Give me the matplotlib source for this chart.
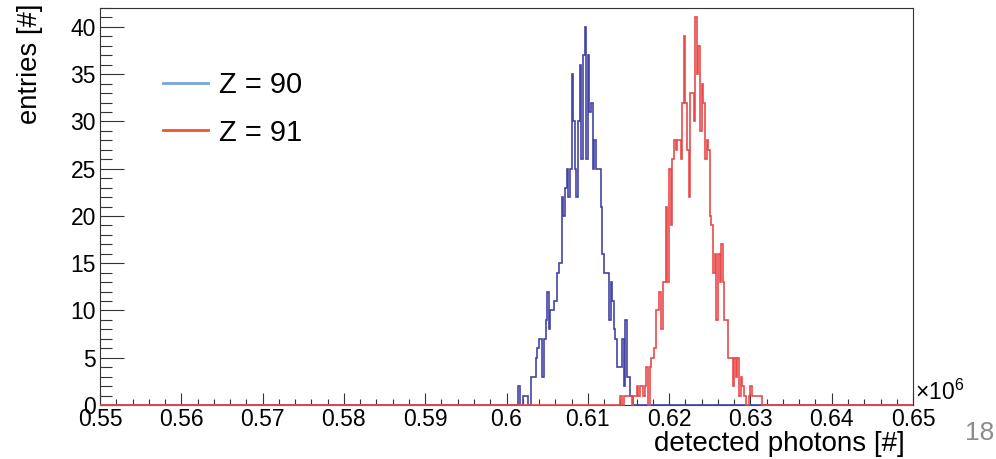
import numpy as np
import matplotlib
matplotlib.use("Agg")
import matplotlib.pyplot as plt
from matplotlib.lines import Line2D
from matplotlib.ticker import MultipleLocator

# histogram binning (x in units of 1e6 photons)
x_min = 0.55
x_max = 0.65
n_bins = 500

# Z = 90: counts starting at bin index blue_first_bin
blue_first_bin = 257
blue_counts = [
    2, 0, 0, 1, 1, 1, 0, 0, 3, 3,
    3, 5, 6, 7, 7, 3, 7, 9, 12, 8,
    10, 10, 11, 11, 14, 15, 15, 22, 20, 23,
    25, 22, 25, 35, 30, 25, 22, 30, 36, 26,
    37, 40, 26, 37, 31, 32, 25, 28, 25, 25,
    25, 21, 16, 14, 14, 14, 9, 13, 11, 8,
    7, 4, 4, 4, 7, 2, 9, 3, 3, 1,
    1,
]

# Z = 91: counts starting at bin index red_first_bin
red_first_bin = 320
red_counts = [
    1, 0, 1, 1, 1, 1, 1, 0, 1, 1,
    2, 1, 2, 2, 1, 2, 4, 0, 4, 5,
    5, 6, 10, 10, 12, 8, 13, 13, 21, 13,
    25, 19, 26, 28, 27, 28, 28, 26, 32, 39,
    32, 27, 22, 33, 33, 30, 41, 35, 38, 29,
    34, 32, 26, 28, 27, 20, 19, 14, 16, 9,
    16, 13, 17, 13, 9, 9, 5, 5, 5, 2,
    5, 3, 5, 1, 3, 2, 1, 0, 0, 1,
    2, 1, 1, 1, 1, 1, 1, 0,
]

x_ticks = [0.55, 0.56, 0.57, 0.58, 0.59, 0.60, 0.61, 0.62, 0.63, 0.64, 0.65]
x_tick_labels = ["0.55", "0.56", "0.57", "0.58", "0.59", "0.6",
                 "0.61", "0.62", "0.63", "0.64", "0.65"]
y_ticks = [0, 5, 10, 15, 20, 25, 30, 35, 40]
legend_labels = ["Z = 90", "Z = 91"]

plt.rcParams["font.family"] = ["Liberation Sans", "DejaVu Sans"]
plt.rcParams["mathtext.fontset"] = "custom"
plt.rcParams["mathtext.rm"] = "Liberation Sans"


def full_hist(first_bin, counts):
    h = np.zeros(n_bins)
    h[first_bin:first_bin + len(counts)] = counts
    return h


edges = np.linspace(x_min, x_max, n_bins + 1)
blue_hist = full_hist(blue_first_bin, blue_counts)
red_hist = full_hist(red_first_bin, red_counts)

fig = plt.figure(figsize=(9.96, 4.59), dpi=100)
ax = fig.add_axes([0.1004, 0.1176, 0.8163, 0.8650])

ax.stairs(blue_hist, edges, color="#4444a8", linewidth=1.2, zorder=3, clip_on=False)
ax.stairs(red_hist, edges, color="#ea4a4a", linewidth=1.2, zorder=3, clip_on=False)

ax.set_xlim(x_min, x_max)
ax.set_ylim(0, 42)

ax.set_xticks(x_ticks)
ax.set_xticklabels(x_tick_labels)
ax.xaxis.set_minor_locator(MultipleLocator(0.002))
ax.set_yticks(y_ticks)
ax.yaxis.set_minor_locator(MultipleLocator(1))

ax.tick_params(axis="both", which="both", direction="in", top=False, right=False,
               colors="#333333", labelcolor="black", labelsize=16.5, width=0.8)
ax.tick_params(axis="x", which="major", length=8.6, pad=2)
ax.tick_params(axis="x", which="minor", length=4.3)
ax.tick_params(axis="y", which="major", length=17.3, pad=3)
ax.tick_params(axis="y", which="minor", length=8.6)
for spine in ax.spines.values():
    spine.set_linewidth(0.8)
    spine.set_color("#333333")

ax.text(1.003, 0.0, r"$\times10^{6}$", transform=ax.transAxes,
        fontsize=16.5, ha="left", va="bottom")
ax.text(0.99, -0.099, "detected photons [#]", transform=ax.transAxes,
        fontsize=20, ha="right", va="center")
ax.text(-0.086, 1.012, "entries [#]", transform=ax.transAxes,
        fontsize=19.7, ha="center", va="top", rotation=90)

handles = [Line2D([], [], color="#7ba4d8", linewidth=2.0),
           Line2D([], [], color="#f0542a", linewidth=2.0)]
ax.legend(handles, legend_labels, loc="upper left", bbox_to_anchor=(0.0775, 0.842),
          frameon=False, fontsize=21, handlelength=1.55, handletextpad=0.38,
          labelspacing=0.68, borderpad=0, borderaxespad=0)

fig.text(0.998, 0.057, "18", color="#8c8c8c", fontsize=19, ha="right", va="center")

fig.savefig("out.png", dpi=100)
